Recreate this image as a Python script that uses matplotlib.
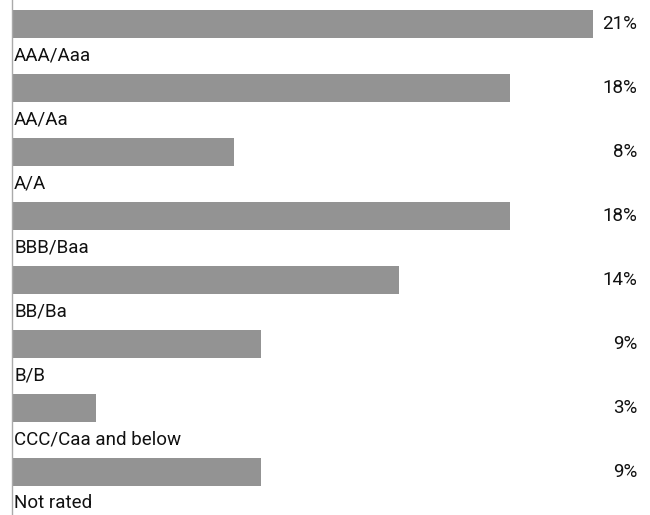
import matplotlib.pyplot as plt
import numpy as np

categories = ["AAA/Aaa", "AA/Aa", "A/A", "BBB/Baa", "BB/Ba", "B/B",
              "CCC/Caa and below", "Not rated"]
values = [21, 18, 8, 18, 14, 9, 3, 9]
labels = ["21%", "18%", "8%", "18%", "14%", "9%", "3%", "9%"]

plt.rcParams['font.family'] = ['Roboto', 'DejaVu Sans']

W, H = 650, 515
fig = plt.figure(figsize=(W / 100, H / 100), dpi=100)
ax = fig.add_axes([12 / W, 0, 1 - 12 / W, 1])

px_per_pct = 27.6
pitch = 64.0
ax.set_xlim(-1 / px_per_pct, (W - 12) / px_per_pct - 1 / px_per_pct)
ax.set_ylim((H - 24) / pitch, -24 / pitch)

y = np.arange(len(categories))
ax.barh(y, values, height=28 / pitch, color='#939393', left=0)

for i, (cat, lab) in enumerate(zip(categories, labels)):
    ax.text(1 / px_per_pct, i + 31 / pitch, cat, ha='left', va='center',
            fontsize=13.5, color='#111111')
    ax.text(637 / W, i, lab, ha='right', va='center', fontsize=13.5,
            color='#111111', transform=ax.get_yaxis_transform().__class__(
                fig.transFigure, ax.transData))

for s in ['top', 'right', 'bottom']:
    ax.spines[s].set_visible(False)
ax.spines['left'].set_color('#aaaaaa')
ax.spines['left'].set_linewidth(1)
ax.set_xticks([])
ax.set_yticks([])

fig.savefig('out.png', dpi=100)
